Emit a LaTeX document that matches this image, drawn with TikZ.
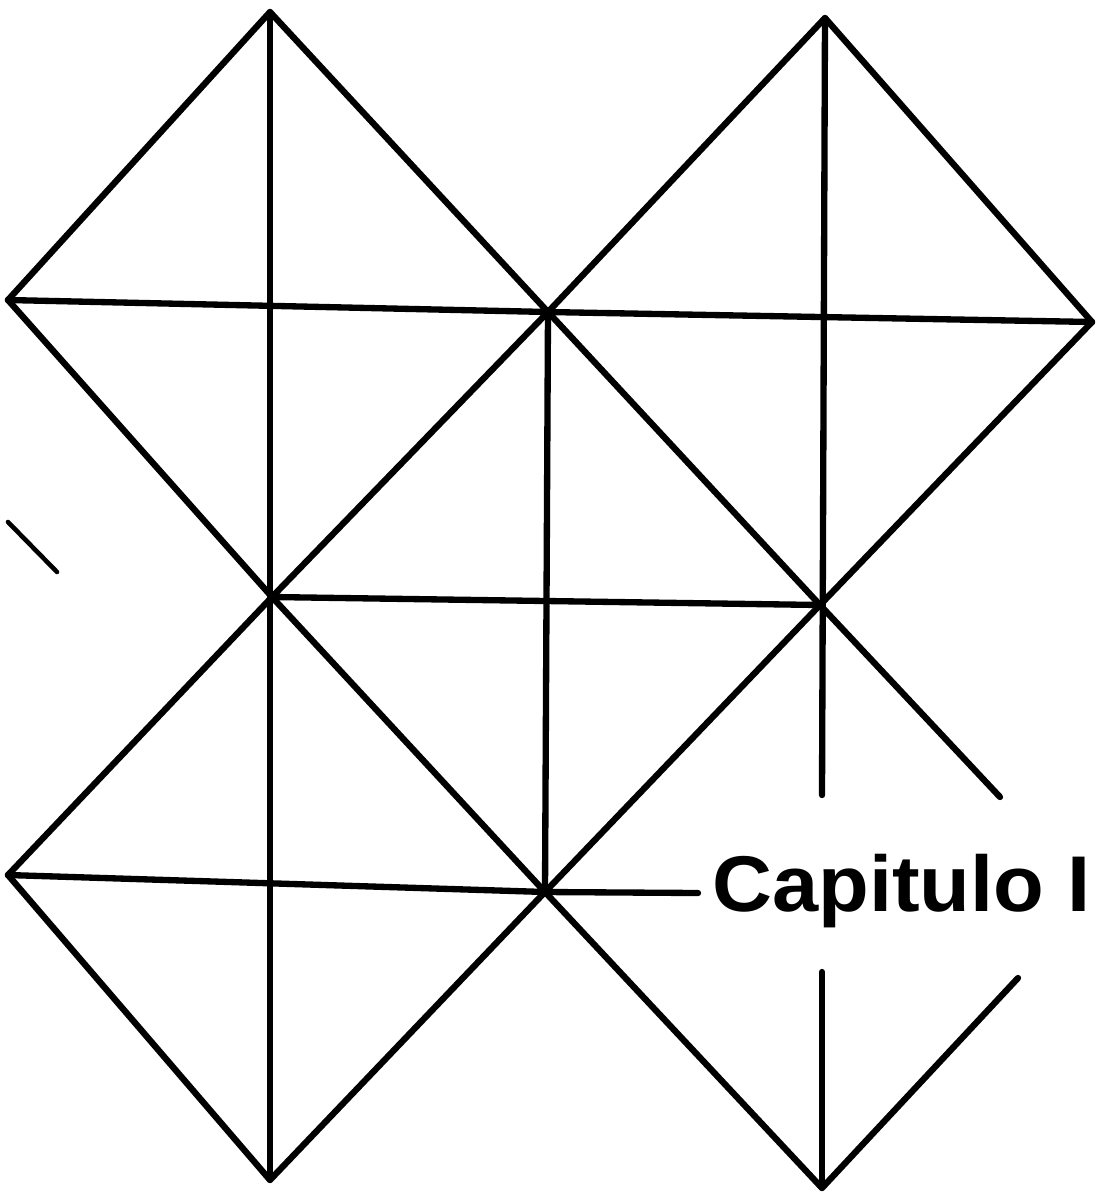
\documentclass[tikz,border=0pt]{standalone}
\usepackage{fontspec}
\setmainfont{Liberation Sans}
\begin{document}
\begin{tikzpicture}[x=0.02cm,y=-0.02cm,
  stroke/.style={line width=3.6pt,line cap=round,line join=round},
  thin stroke/.style={line width=2.6pt,line cap=round},
  label text/.style={font=\fontsize{45}{50}\selectfont\bfseries,inner sep=0pt,anchor=base west,xscale=1.05}]
\useasboundingbox (0,0) rectangle (1102,1198);
% vertices
\coordinate (T1) at (270,12);
\coordinate (T2) at (825,18);
\coordinate (L1) at (8,300);
\coordinate (C1) at (548,312);
\coordinate (R1) at (1092,322);
\coordinate (M1) at (272,597);
\coordinate (M2) at (820,605);
\coordinate (L2) at (8,875);
\coordinate (C2) at (545,892);
\coordinate (B1) at (270,1180);
\coordinate (B2) at (822,1188);
% free ends
\coordinate (Va) at (822,795);
\coordinate (Vb) at (822,972);
\coordinate (Da) at (1000,797);
\coordinate (Db) at (1018,978);
\coordinate (He) at (698,893);
\coordinate (S1) at (8,522);
\coordinate (S2) at (57,572);
% verticals
\draw[stroke] (T1) -- (B1);
\draw[stroke] (C1) -- (C2);
\draw[stroke] (T2) -- (Va);
\draw[stroke] (Vb) -- (B2);
% horizontals
\draw[stroke] (L1) -- (C1) -- (R1);
\draw[stroke] (M1) -- (M2);
\draw[stroke] (L2) -- (C2) -- (He);
% diagonals
\draw[stroke] (L1) -- (T1) -- (C1) -- (T2) -- (R1);
\draw[stroke] (L1) -- (M1) -- (C1) -- (M2) -- (R1);
\draw[stroke] (L2) -- (M1) -- (C2) -- (M2) -- (Da);
\draw[stroke] (L2) -- (B1) -- (C2) -- (B2) -- (Db);
% stray mark
\draw[thin stroke] (S1) -- (S2);
% label
\node[label text] (cap) at (712,911) {Capitulo I};
\end{tikzpicture}
\end{document}
